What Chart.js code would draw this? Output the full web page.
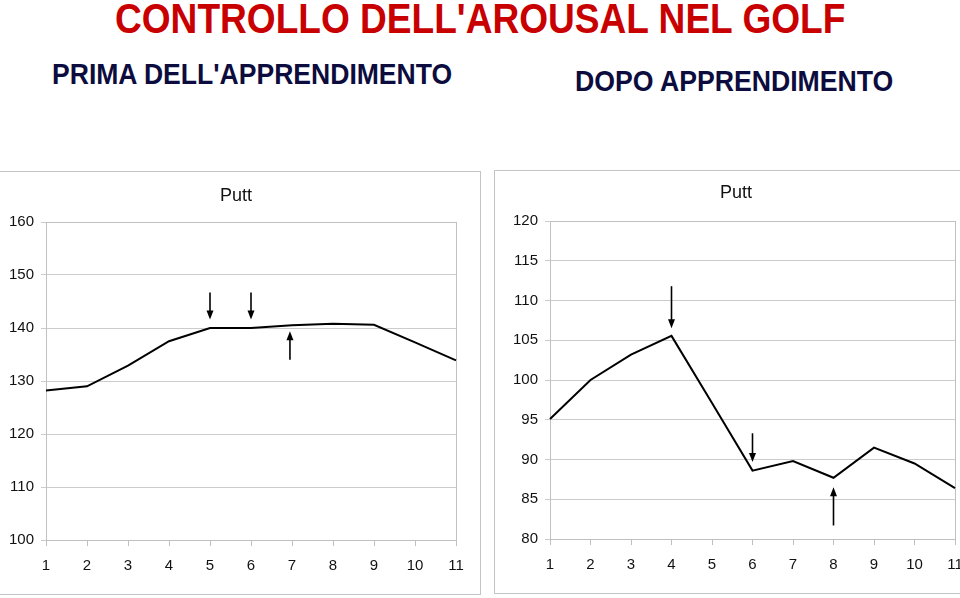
<!DOCTYPE html>
<html>
<head>
<meta charset="utf-8">
<script src="https://cdn.jsdelivr.net/npm/chart.js@4"></script>
<style>
  html, body { margin: 0; padding: 0; background: #fff; }
  body { width: 960px; height: 598px; position: relative; overflow: hidden; }
  .hd { position: absolute; white-space: nowrap; font-family: "Liberation Sans Narrow", "Arial Narrow", "Liberation Sans", Arial, sans-serif; font-weight: bold; transform-origin: 0 0; line-height: 1; }
  #title { color: #c80000; font-size: 42px; left: 115px; top: -2px; }
  #sub1 { color: #0c0c3e; font-size: 30px; left: 52px; top: 59px; }
  #sub2 { color: #0c0c3e; font-size: 30px; left: 575px; top: 66px; }
  .box { position: absolute; border: 1.5px solid #c4c4c4; }
  #box1 { left: -3px; top: 171px; width: 482px; height: 422px; }
  #box2 { left: 494px; top: 170px; width: 480px; height: 422px; }
  canvas { position: absolute; left: 0; top: 0; }
</style>
</head>
<body>
<div class="hd" id="title">CONTROLLO DELL'AROUSAL NEL GOLF</div>
<div class="hd" id="sub1">PRIMA DELL'APPRENDIMENTO</div>
<div class="hd" id="sub2">DOPO APPRENDIMENTO</div>
<div class="box" id="box1"><canvas id="c1" width="482" height="422"></canvas></div>
<div class="box" id="box2"><canvas id="c2" width="480" height="422"></canvas></div>
<script>
// stretch the headings to the widths they have in the picture
function fit(id, w) {
    var el = document.getElementById(id);
    el.style.transform = 'scaleX(' + (w / el.offsetWidth) + ')';
}
fit('title', 730);
fit('sub1', 400);
fit('sub2', 318);

const prove = ['1', '2', '3', '4', '5', '6', '7', '8', '9', '10', '11'];

// prima dell'apprendimento
const prima = [128.2, 129.0, 132.9, 137.5, 140.0, 140.0, 140.5, 140.8, 140.6, 137.3, 133.9];
const primaTicks = [100, 110, 120, 130, 140, 150, 160];
const primaFrecce = [
    { x: 5, da: 146.7, a: 141.6 },
    { x: 6, da: 146.7, a: 141.6 },
    { x: 6.95, da: 134.0, a: 139.4 }
];

// dopo apprendimento
const dopo = [95.1, 100.0, 103.2, 105.55, 97.1, 88.6, 89.8, 87.7, 91.5, 89.5, 86.4];
const dopoTicks = [80, 85, 90, 95, 100, 105, 110, 115, 120];
const dopoFrecce = [
    { x: 4, da: 111.8, a: 106.5 },
    { x: 6, da: 93.3, a: 89.7 },
    { x: 8, da: 81.7, a: 86.5 }
];

const titolo = 'Putt';

const frecce = {
    id: 'frecce',
    afterDatasetsDraw(chart, args, opts) {
        const c = chart.ctx;
        const xs = chart.scales.x, ys = chart.scales.y;
        c.save();
        c.strokeStyle = '#000';
        c.fillStyle = '#000';
        c.lineWidth = 1.6;
        opts.list.forEach(f => {
            const px = xs.getPixelForValue(f.x - 1);
            const y0 = ys.getPixelForValue(f.da);
            const y1 = ys.getPixelForValue(f.a);
            const dir = y1 > y0 ? 1 : -1;
            c.beginPath();
            c.moveTo(px, y0);
            c.lineTo(px, y1 - dir * 4);
            c.stroke();
            c.beginPath();
            c.moveTo(px, y1);
            c.lineTo(px - 3.5, y1 - dir * 9);
            c.lineTo(px + 3.5, y1 - dir * 9);
            c.closePath();
            c.fill();
        });
        // titolo del grafico, centrato sul riquadro
        c.fillStyle = '#111';
        c.font = '18px "Liberation Sans", Arial, sans-serif';
        c.textAlign = 'center';
        c.textBaseline = 'middle';
        c.fillText(titolo, opts.titleX, opts.titleY);
        c.restore();
    }
};

const bordo = {
    id: 'bordo',
    beforeDatasetsDraw(chart) {
        const a = chart.chartArea, c = chart.ctx;
        c.save();
        c.strokeStyle = '#c0c0c0';
        c.lineWidth = 1;
        c.strokeRect(Math.round(a.left) + 0.5, Math.round(a.top) + 0.5, Math.round(a.right - a.left), Math.round(a.bottom - a.top));
        c.restore();
    }
};

function makeChart(id, values, ticks, arrows, yWidth, padRight, titleX, titleY) {
    return new Chart(document.getElementById(id), {
        type: 'line',
        data: {
            labels: prove,
            datasets: [{
                data: values,
                borderColor: '#000',
                borderWidth: 2,
                pointRadius: 0,
                tension: 0,
                fill: false
            }]
        },
        plugins: [bordo, frecce],
        options: {
            responsive: false,
            animation: false,
            events: [],
            layout: { padding: { top: 50, right: padRight, bottom: 10, left: 0 } },
            plugins: {
                legend: { display: false },
                tooltip: { enabled: false },
                title: { display: false },
                frecce: { list: arrows, titleX: titleX, titleY: titleY }
            },
            scales: {
                x: {
                    offset: false,
                    afterFit: s => { s.height = 44; },
                    grid: { drawOnChartArea: false, drawTicks: true, tickLength: 6, color: '#c0c0c0' },
                    border: { color: '#c0c0c0' },
                    ticks: { color: '#111', padding: 11, maxRotation: 0, autoSkip: false,
                             font: { family: '"Liberation Sans", Arial, sans-serif', size: 15 } }
                },
                y: {
                    min: ticks[0],
                    max: ticks[ticks.length - 1],
                    afterBuildTicks: s => { s.ticks = ticks.map(v => ({ value: v })); },
                    afterFit: s => { s.width = yWidth; },
                    grid: { color: '#cccccc', tickLength: 5, drawTicks: true },
                    border: { color: '#c0c0c0' },
                    ticks: { color: '#111', padding: 7,
                             font: { family: '"Liberation Sans", Arial, sans-serif', size: 15 } }
                }
            }
        }
    });
}

makeChart('c1', prima, primaTicks, primaFrecce, 48, 24, 238, 24);
makeChart('c2', dopo, dopoTicks, dopoFrecce, 55, 20, 241, 22);
</script>
</body>
</html>
